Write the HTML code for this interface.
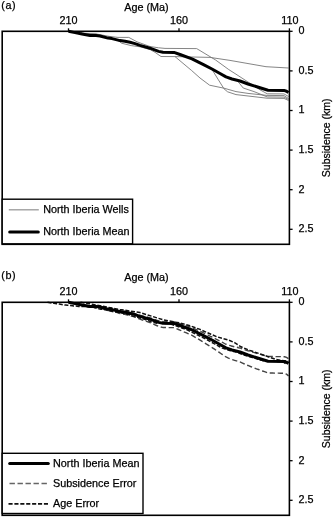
<!DOCTYPE html>
<html><head><meta charset="utf-8"><style>
html,body{margin:0;padding:0;background:#fff;}
body{width:333px;height:517px;overflow:hidden;}
svg{display:block;}
text{font-family:"Liberation Sans",Arial,sans-serif;font-size:10.8px;fill:#000;stroke:#000;stroke-width:0.25px;}
text.s{font-size:10.5px;}
</style></head><body>
<svg width="333" height="517" viewBox="0 0 333 517">
<rect width="333" height="517" fill="#fff"/>
<text x="1.2" y="8.9" letter-spacing="0.6" >(a)</text>
<text x="124.3" y="10.6" >Age (Ma)</text>
<text x="68.5" y="24.4" text-anchor="middle" >210</text>
<text x="179.0" y="24.4" text-anchor="middle" >160</text>
<text x="289.8" y="24.4" text-anchor="middle" >110</text>
<text x="298.5" y="34.2" >0</text>
<line x1="289.4" y1="31.3" x2="292.6" y2="31.3" stroke="#000" stroke-width="1.3"/>
<text x="298.5" y="73.8" >0.5</text>
<line x1="289.4" y1="70.9" x2="292.6" y2="70.9" stroke="#000" stroke-width="1.3"/>
<text x="298.5" y="113.4" >1</text>
<line x1="289.4" y1="110.5" x2="292.6" y2="110.5" stroke="#000" stroke-width="1.3"/>
<text x="298.5" y="153.0" >1.5</text>
<line x1="289.4" y1="150.1" x2="292.6" y2="150.1" stroke="#000" stroke-width="1.3"/>
<text x="298.5" y="192.6" >2</text>
<line x1="289.4" y1="189.7" x2="292.6" y2="189.7" stroke="#000" stroke-width="1.3"/>
<text x="298.5" y="232.2" >2.5</text>
<line x1="289.4" y1="229.3" x2="292.6" y2="229.3" stroke="#000" stroke-width="1.3"/>
<line x1="68.5" y1="28.3" x2="68.5" y2="31.3" stroke="#000" stroke-width="1.3"/>
<line x1="179.0" y1="28.3" x2="179.0" y2="31.3" stroke="#000" stroke-width="1.3"/>
<line x1="289.4" y1="28.3" x2="289.4" y2="31.3" stroke="#000" stroke-width="1.3"/>
<text transform="translate(330.3 137.8) rotate(-90)" text-anchor="middle" class="s">Subsidence (km)</text>
<polyline points="68.5,31.3 80.0,31.9 84.0,33.3 96.0,33.9 104.0,35.4 110.0,36.5 118.0,37.4 128.8,37.4 137.0,41.8 150.0,46.5 158.6,47.8 165.0,48.4 196.7,48.6 215.6,60.0 228.8,69.6 236.0,74.2 248.0,82.0 260.0,89.8 267.2,93.8 284.0,93.9 288.5,96.5" fill="none" stroke="#777" stroke-width="0.9"/>
<polyline points="68.5,31.3 84.0,33.6 96.0,34.2 104.0,36.4 110.0,38.4 118.0,40.4 121.6,43.2 131.2,45.6 140.0,46.8 150.0,49.5 155.0,52.3 161.0,56.5 175.0,56.6 210.0,57.4 230.0,60.4 266.0,66.7 288.5,68.0" fill="none" stroke="#777" stroke-width="0.9"/>
<polyline points="175.0,56.6 191.6,70.5 200.0,78.0 209.6,85.2 224.0,88.2 236.0,91.6 248.0,93.4 267.0,95.4 284.0,95.6 288.5,98.5" fill="none" stroke="#777" stroke-width="0.9"/>
<polyline points="212.0,69.5 218.0,79.2 224.0,88.8 227.6,91.8 236.0,94.6 267.0,98.2 284.0,98.4 288.5,100.5" fill="none" stroke="#777" stroke-width="0.9"/>
<polyline points="238.4,82.0 243.2,88.0 254.0,91.6 267.2,96.9 284.0,97.1 288.5,99.5" fill="none" stroke="#777" stroke-width="0.9"/>
<polyline points="68.5,31.3 75.0,32.6 82.0,34.0 90.0,35.4 96.0,35.5 100.0,36.0 108.0,38.1 112.0,38.6 120.0,40.6 125.0,41.3 130.0,42.3 135.0,43.6 140.0,45.4 150.0,48.2 158.6,51.4 163.0,52.3 174.0,52.4 180.0,54.5 192.0,58.8 204.0,64.8 212.0,69.0 220.0,73.5 226.0,76.9 232.0,79.0 240.0,81.0 248.0,84.0 260.0,87.8 268.0,90.2 284.0,90.4 286.5,91.2 288.5,92.6" fill="none" stroke="#000" stroke-width="3" stroke-linejoin="round"/>
<rect x="2.2" y="31.3" width="287.2" height="213.0" fill="none" stroke="#000" stroke-width="1.6"/>
<rect x="2.2" y="199.2" width="130.4" height="44.6" fill="#fff" stroke="#000" stroke-width="1.4"/>
<line x1="8.8" y1="209.8" x2="38.8" y2="209.8" stroke="#999" stroke-width="1.3"/>
<line x1="9.7" y1="232" x2="38.3" y2="232" stroke="#000" stroke-width="3" stroke-linecap="round"/>
<text x="43.2" y="213.1" >North Iberia Wells</text>
<text x="43.2" y="235.0" >North Iberia Mean</text>
<text x="1.2" y="278.5" letter-spacing="0.6" >(b)</text>
<text x="124.3" y="280.6" >Age (Ma)</text>
<text x="68.5" y="294.8" text-anchor="middle" >210</text>
<text x="179.0" y="294.8" text-anchor="middle" >160</text>
<text x="289.8" y="294.8" text-anchor="middle" >110</text>
<text x="298.5" y="305.2" >0</text>
<line x1="289.4" y1="302.3" x2="292.6" y2="302.3" stroke="#000" stroke-width="1.3"/>
<text x="298.5" y="344.8" >0.5</text>
<line x1="289.4" y1="341.9" x2="292.6" y2="341.9" stroke="#000" stroke-width="1.3"/>
<text x="298.5" y="384.4" >1</text>
<line x1="289.4" y1="381.5" x2="292.6" y2="381.5" stroke="#000" stroke-width="1.3"/>
<text x="298.5" y="424.0" >1.5</text>
<line x1="289.4" y1="421.1" x2="292.6" y2="421.1" stroke="#000" stroke-width="1.3"/>
<text x="298.5" y="463.6" >2</text>
<line x1="289.4" y1="460.7" x2="292.6" y2="460.7" stroke="#000" stroke-width="1.3"/>
<text x="298.5" y="503.2" >2.5</text>
<line x1="289.4" y1="500.3" x2="292.6" y2="500.3" stroke="#000" stroke-width="1.3"/>
<line x1="68.5" y1="299.3" x2="68.5" y2="302.3" stroke="#000" stroke-width="1.3"/>
<line x1="179.0" y1="299.3" x2="179.0" y2="302.3" stroke="#000" stroke-width="1.3"/>
<line x1="289.4" y1="299.3" x2="289.4" y2="302.3" stroke="#000" stroke-width="1.3"/>
<text transform="translate(330.3 408.8) rotate(-90)" text-anchor="middle" class="s">Subsidence (km)</text>
<polyline points="68.5,302.3 70.5,302.8 72.5,303.3 74.5,303.7 75.0,303.9 76.5,304.2 78.5,304.7 80.5,305.2 82.0,305.5 82.5,305.6 84.5,306.1 86.5,306.5 88.5,306.9 90.0,307.2 90.5,307.2 92.5,307.3 94.5,307.3 96.0,307.3 96.5,307.4 98.5,307.7 100.0,307.9 100.5,308.1 102.5,308.7 104.5,309.4 106.5,310.0 108.0,310.5 108.5,310.5 110.5,310.8 112.0,311.1 112.5,311.2 114.5,311.8 116.5,312.4 118.5,313.0 120.0,313.5 120.5,313.5 122.5,313.9 124.5,314.2 125.0,314.3 126.5,314.7 128.5,315.1 130.0,315.5 130.5,315.7 132.5,316.3 134.5,316.9 135.0,317.1 136.5,317.7 138.5,318.6 140.0,319.2 140.5,319.4 142.5,320.1 144.5,320.7 146.5,321.4 148.5,322.1 150.0,322.6 150.5,322.8 152.5,323.7 154.5,324.6 156.5,325.5 158.5,326.4 158.6,326.4 160.5,326.9 162.5,327.4 163.0,327.5 164.5,327.5 166.5,327.5 168.5,327.6 170.5,327.6 172.5,327.6 174.0,327.6 174.5,327.8 176.5,328.7 178.5,329.5 180.0,330.1 180.5,330.4 182.5,331.2 184.5,332.1 186.5,332.9 188.5,333.8 190.5,334.7 192.0,335.3 192.5,335.6 194.5,336.8 196.5,338.0 198.5,339.2 200.5,340.4 202.5,341.6 204.0,342.5 204.5,342.8 206.5,344.1 208.5,345.3 210.5,346.6 212.0,347.5 212.5,347.9 214.5,349.2 216.5,350.6 218.5,351.9 220.0,352.9 220.5,353.3 222.5,354.6 224.5,356.0 226.0,357.0 226.5,357.2 228.5,358.1 230.5,358.9 232.0,359.5 232.5,359.7 234.5,360.3 236.5,360.9 238.5,361.5 240.0,361.9 240.5,362.2 242.5,363.1 244.5,364.0 246.5,364.9 248.0,365.5 248.5,365.7 250.5,366.5 252.5,367.2 254.5,368.0 256.5,368.8 258.5,369.5 260.0,370.1 260.5,370.3 262.5,371.0 264.5,371.7 266.5,372.4 268.0,373.0 268.5,373.0 270.5,373.0 272.5,373.0 274.5,373.1 276.5,373.1 278.5,373.1 280.5,373.2 282.5,373.2 284.0,373.2 284.5,373.4 286.5,374.2 288.5,375.9" fill="none" stroke="#444" stroke-width="1.4" stroke-dasharray="5.3 2.7"/>
<polyline points="68.5,302.3 70.5,302.7 72.5,303.0 74.5,303.4 75.0,303.5 76.5,303.8 78.5,304.1 80.5,304.5 82.0,304.8 82.5,304.9 84.5,305.2 86.5,305.5 88.5,305.8 90.0,306.1 90.5,306.1 92.5,306.1 94.5,306.1 96.0,306.2 96.5,306.2 98.5,306.5 100.0,306.6 100.5,306.7 102.5,307.2 104.5,307.7 106.5,308.2 108.0,308.6 108.5,308.6 110.5,308.8 112.0,309.0 112.5,309.1 114.5,309.6 116.5,310.1 118.5,310.5 120.0,310.9 120.5,310.9 122.5,311.2 124.5,311.4 125.0,311.5 126.5,311.8 128.5,312.1 130.0,312.4 130.5,312.5 132.5,313.0 134.5,313.5 135.0,313.6 136.5,314.1 138.5,314.8 140.0,315.3 140.5,315.4 142.5,315.9 144.5,316.4 146.5,316.9 148.5,317.5 150.0,317.8 150.5,318.0 152.5,318.7 154.5,319.4 156.5,320.1 158.5,320.8 158.6,320.8 160.5,321.1 162.5,321.5 163.0,321.6 164.5,321.6 166.5,321.6 168.5,321.7 170.5,321.7 172.5,321.7 174.0,321.7 174.5,321.9 176.5,322.5 178.5,323.2 180.0,323.6 180.5,323.8 182.5,324.5 184.5,325.1 186.5,325.8 188.5,326.4 190.5,327.1 192.0,327.6 192.5,327.8 194.5,328.8 196.5,329.7 198.5,330.6 200.5,331.5 202.5,332.4 204.0,333.1 204.5,333.4 206.5,334.3 208.5,335.3 210.5,336.3 212.0,337.0 212.5,337.2 214.5,338.3 216.5,339.3 218.5,340.3 220.0,341.1 220.5,341.4 222.5,342.4 224.5,343.5 226.0,344.3 226.5,344.4 228.5,345.1 230.5,345.7 232.0,346.2 232.5,346.3 234.5,346.8 236.5,347.2 238.5,347.7 240.0,348.0 240.5,348.2 242.5,348.9 244.5,349.6 246.5,350.3 248.0,350.8 248.5,350.9 250.5,351.5 252.5,352.1 254.5,352.7 256.5,353.3 258.5,353.8 260.0,354.3 260.5,354.4 262.5,355.0 264.5,355.5 266.5,356.1 268.0,356.5 268.5,356.5 270.5,356.5 272.5,356.5 274.5,356.6 276.5,356.6 278.5,356.6 280.5,356.6 282.5,356.7 284.0,356.7 284.5,356.8 286.5,357.4 288.5,358.7" fill="none" stroke="#444" stroke-width="1.4" stroke-dasharray="5.3 2.7"/>
<polyline points="47.5,302.3 48.8,302.5 50.1,302.7 51.4,302.9 52.7,303.1 54.0,303.3 55.3,303.5 56.6,303.7 57.9,303.9 59.2,304.1 60.5,304.3 61.8,304.5 63.1,304.7 64.4,304.9 65.8,305.1 67.4,305.3 69.1,305.4 70.7,305.6 72.3,305.8 73.9,306.0 75.6,306.1 77.2,306.3 78.7,306.4 80.1,306.4 81.5,306.4 82.9,306.5 84.3,306.5 85.7,306.5 87.1,306.6 88.5,306.7 89.9,306.8 91.3,306.9 92.5,307.1 93.6,307.4 94.6,307.7 95.7,307.9 96.7,308.2 97.8,308.4 98.8,308.7 99.9,309.0 100.9,309.2 102.0,309.3 103.0,309.4 104.1,309.5 105.1,309.7 106.2,310.0 107.2,310.2 108.3,310.5 109.3,310.7 110.4,311.0 111.4,311.2 112.5,311.5 113.5,311.7 114.6,311.8 115.6,311.9 116.7,312.1 117.7,312.2 118.8,312.4 119.8,312.6 120.9,312.8 121.9,313.0 123.0,313.2 124.0,313.4 125.1,313.7 126.1,313.9 127.2,314.2 128.2,314.5 129.3,314.8 130.3,315.1 131.4,315.5 132.4,315.9 133.5,316.2 134.5,316.5 135.5,316.8 136.6,317.1 137.6,317.4 138.6,317.7 139.6,317.9 140.6,318.2 141.7,318.5 142.7,318.8 143.7,319.1 144.7,319.4 145.7,319.8 146.8,320.1 147.8,320.5 148.8,320.9 149.8,321.2 150.8,321.6 151.9,322.0 152.9,322.4 153.9,322.6 154.9,322.8 155.9,323.0 157.0,323.2 158.0,323.3 159.0,323.3 160.0,323.3 161.0,323.3 162.1,323.3 163.1,323.4 164.1,323.4 165.1,323.4 166.1,323.4 167.2,323.4 168.2,323.4 169.2,323.6 170.2,323.9 171.2,324.3 172.3,324.6 173.3,325.0 174.3,325.3 175.3,325.7 176.3,326.0 177.4,326.4 178.4,326.8 179.4,327.1 180.4,327.5 181.4,327.8 182.5,328.2 183.5,328.5 184.5,328.9 185.5,329.3 186.5,329.6 187.6,330.1 188.6,330.6 189.6,331.1 190.6,331.6 191.6,332.1 192.7,332.6 193.7,333.1 194.7,333.6 195.7,334.1 196.7,334.6 197.8,335.1 198.8,335.6 199.8,336.1 200.8,336.6 201.8,337.1 202.9,337.6 203.9,338.2 204.9,338.7 205.9,339.2 206.9,339.7 208.0,340.3 209.0,340.8 210.0,341.4 211.0,342.0 212.0,342.5 213.1,343.1 214.1,343.7 215.1,344.2 216.1,344.8 217.1,345.4 218.2,345.9 219.2,346.5 220.2,347.1 221.2,347.6 222.2,348.1 223.3,348.4 224.3,348.8 225.3,349.1 226.3,349.5 227.3,349.8 228.4,350.1 229.4,350.4 230.4,350.6 231.4,350.9 232.4,351.1 233.5,351.4 234.5,351.6 235.5,351.9 236.5,352.2 237.6,352.6 238.6,352.9 239.6,353.3 240.6,353.7 241.6,354.1 242.7,354.4 243.7,354.8 244.7,355.2 245.7,355.5 246.7,355.8 247.8,356.1 248.8,356.4 249.8,356.7 250.8,357.1 251.8,357.4 252.9,357.7 253.9,358.0 254.9,358.3 255.9,358.6 256.9,358.9 258.0,359.2 259.0,359.6 260.0,359.9 261.0,360.1 262.0,360.4 263.1,360.8 264.1,361.1 265.1,361.2 266.1,361.2 267.1,361.2 268.2,361.2 269.2,361.3 270.2,361.3 271.2,361.3 272.2,361.3 273.3,361.3 274.3,361.3 275.3,361.3 276.3,361.3 277.3,361.4 278.4,361.4 279.4,361.4 280.4,361.4 281.4,361.6 282.4,361.9 283.5,362.2 284.5,362.9 285.5,363.6" fill="none" stroke="#111" stroke-width="1.5" stroke-dasharray="4 1.7"/>
<polyline points="80.5,302.3 90.0,303.8 100.0,305.8 120.0,309.5 140.0,312.6 152.0,316.3 164.0,320.1 174.0,321.9 180.0,323.0 190.0,325.8 200.0,329.4 211.0,334.3 217.0,336.8 223.0,338.6 229.0,340.2 235.0,342.8 241.0,346.8 250.0,350.5 260.0,353.8 268.9,357.0 276.0,359.5 288.5,361.5" fill="none" stroke="#111" stroke-width="1.5" stroke-dasharray="4 1.7"/>
<polyline points="68.5,302.3 75.0,303.6 82.0,305.0 90.0,306.4 96.0,306.5 100.0,307.0 108.0,309.1 112.0,309.6 120.0,311.6 125.0,312.3 130.0,313.3 135.0,314.6 140.0,316.4 150.0,319.2 158.6,322.4 163.0,323.3 174.0,323.4 180.0,325.5 192.0,329.8 204.0,335.8 212.0,340.0 220.0,344.5 226.0,347.9 232.0,350.0 240.0,352.0 248.0,355.0 260.0,358.8 268.0,361.2 284.0,361.4 286.5,362.2 288.5,363.6" fill="none" stroke="#000" stroke-width="3" stroke-linejoin="round"/>
<rect x="2.2" y="302.3" width="287.2" height="213.0" fill="none" stroke="#000" stroke-width="1.6"/>
<rect x="2.2" y="453.3" width="140.8" height="60.2" fill="#fff" stroke="#000" stroke-width="1.4"/>
<line x1="9.7" y1="463.6" x2="48.3" y2="463.6" stroke="#000" stroke-width="3" stroke-linecap="round"/>
<line x1="9.5" y1="483.5" x2="47.5" y2="483.5" stroke="#666" stroke-width="1.4" stroke-dasharray="5.4 2.6"/>
<line x1="8.5" y1="503.9" x2="48.2" y2="503.9" stroke="#111" stroke-width="1.8" stroke-dasharray="4.1 1.8"/>
<text x="53" y="466.5" >North Iberia Mean</text>
<text x="53" y="486.6" >Subsidence Error</text>
<text x="53" y="507" >Age Error</text>
</svg>
</body></html>
